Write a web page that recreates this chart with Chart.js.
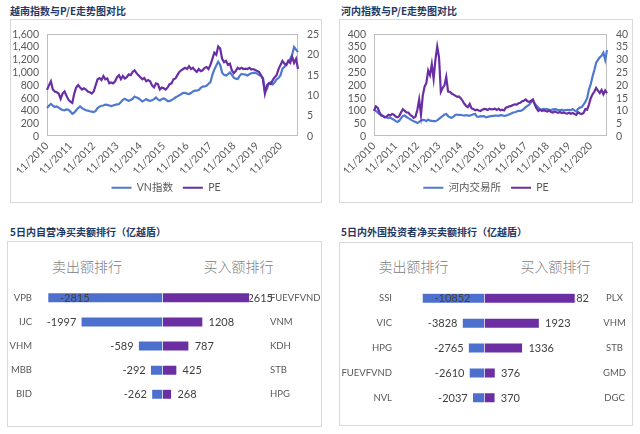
<!DOCTYPE html>
<html><head><meta charset="utf-8">
<script src="https://cdn.jsdelivr.net/npm/chart.js@4.4.0/dist/chart.umd.min.js"></script>
<style>
body{margin:0;width:640px;height:434px;background:#fff;position:relative;overflow:hidden;font-family:Lato,"Noto Sans CJK SC",sans-serif}
.panel{position:absolute;border:1px solid #d9d9d9;box-sizing:border-box}
.title{position:absolute;font-size:10px;font-weight:bold;color:#1f3864;font-family:"Noto Sans CJK SC";white-space:nowrap;line-height:12px}
.hdr{position:absolute;font-size:14px;color:#808080;font-family:"Noto Sans CJK SC";font-weight:300;transform:translateX(-50%);white-space:nowrap;line-height:16px}
canvas{position:absolute}
</style></head>
<body>
<div class="panel" style="left:10px;top:19px;width:312px;height:184px"></div>
<div class="panel" style="left:339px;top:19px;width:294px;height:184px"></div>
<div class="panel" style="left:7px;top:241px;width:315px;height:186px"></div>
<div class="panel" style="left:339px;top:242px;width:294px;height:184px"></div>
<div class="title" style="left:10px;top:4.5px">越南指数与P/E走势图对比</div>
<div class="title" style="left:341px;top:4.5px">河内指数与P/E走势图对比</div>
<div class="title" style="left:10px;top:226px">5日内自营净买卖额排行（亿越盾）</div>
<div class="title" style="left:341px;top:226px">5日内外国投资者净买卖额排行（亿越盾）</div>
<div class="hdr" style="left:87px;top:258px">卖出额排行</div>
<div class="hdr" style="left:238.5px;top:258px">买入额排行</div>
<div class="hdr" style="left:413.5px;top:258px">卖出额排行</div>
<div class="hdr" style="left:555.5px;top:258px">买入额排行</div>
<canvas id="c1" width="312" height="184" style="left:10px;top:19px;width:312px;height:184px"></canvas>
<canvas id="c2" width="294" height="184" style="left:339px;top:19px;width:294px;height:184px"></canvas>
<canvas id="c3" width="315" height="186" style="left:7px;top:241px;width:315px;height:186px"></canvas>
<canvas id="c4" width="294" height="184" style="left:339px;top:242px;width:294px;height:184px"></canvas>
<script>
// ---------- DATA ----------
const yearTicks = ['11/2010','11/2011','11/2012','11/2013','11/2014','11/2015','11/2016','11/2017','11/2018','11/2019','11/2020'];
// monthly categories Nov 2010 .. Aug 2021
const months = [];
for (let y = 2010, m = 11; months.length < 130; ) { months.push(m + '/' + y); m++; if (m > 12) { m = 1; y++; } }

const vnIndex = [
445,480,510,485,462,470,452,430,415,410,
425,420,390,355,375,410,445,470,445,425,
410,405,395,390,382,400,445,468,482,485,
500,495,485,475,485,495,502,508,540,575,
592,570,560,572,590,625,612,598,575,548,
565,585,565,558,566,585,612,580,565,585,
595,580,555,555,570,588,610,628,645,665,
682,682,670,665,680,705,718,718,728,760,
780,784,795,825,850,965,1050,1110,1170,1120,
1000,965,955,975,1005,965,920,905,900,950,
980,975,970,955,975,990,995,1000,985,962,
950,915,700,740,830,850,815,850,895,915,
960,1060,1090,1120,1180,1215,1280,1400,1360,1320];
const vnPE = [
11.4,12.5,13.5,11.5,11,10.8,10.5,9.2,10.5,11,
10,9,8.5,8.2,10.5,12,12.6,12,11.5,11.8,
11.5,11,10.8,10.5,11,12.5,14,14.3,13.8,14.8,
14,14.2,13,13.2,13,13.5,14.5,15,14,14.8,
14.2,14.5,15.2,15,15.8,16.2,15.5,15,14.5,14,
14.3,13.5,13.8,13.5,12.5,12,13,12.8,11.5,12,
11.8,11.5,12,12.8,13,14,14.2,15,15.8,16.2,
16.5,16.8,16.5,17.2,16.5,16.8,16.2,15.8,16.5,16,
16.2,16.8,17,16.5,17.5,19,20.5,20,22,21.5,
19,18.2,18.5,17.5,17.8,16.2,15.5,16,16.8,16.5,
16.8,16.5,16.6,16.5,16.8,16.4,16.5,16.3,16,15.8,
15,14,10.5,12.5,13,12.8,13.8,14.5,15,16.5,
17.5,18.5,17.8,17.5,18.5,18,19.5,18,19,16.5];
const hnxIndex = [
105,100,95,88,85,80,76,75,72,74,
69,66,60,57,62,72,80,82,76,72,
68,63,60,57,53,57,62,65,64,60,
66,62,61,60,60,63,69,75,80,86,
88,80,75,73,78,84,86,84,85,83,
82,84,82,82,84,87,88,78,77,80,
79,80,75,77,79,80,81,82,82,81,
84,83,81,82,84,87,90,94,95,98,
100,100,103,108,115,120,125,135,141,130,
120,113,105,106,108,107,107,104,103,106,
107,106,103,103,105,102,103,104,104,103,
107,102,98,108,113,115,125,135,150,184,
205,235,260,289,300,310,316,328,300,338];
const hnxPE = [
10,11.8,11.3,9.5,8.2,8,7.5,7.8,8.5,8.2,
8.8,8.5,7.8,7.5,8,9.5,10.7,10,9.4,9.4,
8.5,8,7.3,7.8,10.5,14.5,8.5,16,19.5,21,
25.8,24,28.3,22.6,30,35.2,31,17.5,19,20,
23.3,17.6,17.5,16.8,16.4,16,15.5,15.7,15,14,
12.8,12,11.5,12.7,11,10.8,10.3,10.5,10.2,10,
10.5,10.8,10.7,10.4,10.9,10.6,10.7,10.9,10.4,10.8,
10.3,10.5,10.2,11.3,11.5,11.8,12,12.3,12.6,12.5,
13,13.2,13.8,14,14.5,13.8,13.5,14,14.5,12.5,
11,10,10.5,10,10.3,10,9.8,10.2,9.6,9.4,
9.8,9.5,9.3,9.6,9.2,9.4,9.1,9,9.3,8.9,
9.2,8.8,8.5,9.5,9,8.8,9.2,10.7,10.5,12.5,
15,16.5,17.5,19,18,17,18.2,16.5,18,17];

const propSellNames = ['VPB','IJC','VHM','MBB','BID'];
const propSellVals  = [-2815,-1997,-589,-292,-262];
const propBuyNames  = ['FUEVFVND','VNM','KDH','STB','HPG'];
const propBuyVals   = [2615,1208,787,425,268];

const forSellNames = ['SSI','VIC','HPG','FUEVFVND','NVL'];
const forSellVals  = [-10852,-3828,-2765,-2610,-2037];
const forBuyNames  = ['PLX','VHM','STB','GMD','DGC'];
const forBuyVals   = [3182,1923,1336,376,370];

// ---------- STYLE ----------
const BLUE = '#4f78d0', PURPLE = '#6a2ea4';
const SELL = '#4d70cf', BUY = '#6b2fa3';
const FONT = 'Lato,"Noto Sans CJK SC",sans-serif';
Chart.defaults.font.family = FONT;
Chart.defaults.font.size = 10.5;
Chart.defaults.color = '#595959';
Chart.defaults.animation = false;

const frame = {id:'frame', beforeDatasetsDraw(c){
  const a = c.chartArea, x = c.ctx; x.save(); x.strokeStyle = '#bfbfbf'; x.lineWidth = 1;
  x.strokeRect(Math.round(a.left)+0.5, Math.round(a.top)+0.5, Math.round(a.width)-1, Math.round(a.height)-1); x.restore();
}};

function lineChart(id, name1, d1, d2, lMax, lStep, rMax, rStep, g){
  new Chart(document.getElementById(id), {
    type:'line',
    data:{labels: months, datasets:[
      {label:name1, data:d1, yAxisID:'y', borderColor:BLUE, backgroundColor:BLUE, borderWidth:2.2, pointRadius:0, tension:0, order:1},
      {label:'PE', data:d2, yAxisID:'y1', borderColor:PURPLE, backgroundColor:PURPLE, borderWidth:2.2, pointRadius:0, tension:0, order:0}
    ]},
    options:{responsive:false, animation:false,
      layout:{padding:{top:12, left:0, right:0, bottom:0}},
      plugins:{tooltip:{enabled:false},
        legend:{position:'bottom', labels:{usePointStyle:true, pointStyle:'line', pointStyleWidth:20, padding:10, color:'#595959', font:{size:10.5}, sort:(a,b)=>a.datasetIndex-b.datasetIndex}}},
      scales:{
        x:{type:'category', grid:{display:false, drawTicks:false}, border:{display:false},
           ticks:{autoSkip:false, minRotation:45, maxRotation:45, padding:3, color:'#595959',
             callback:(v,i)=> yearTicks.includes(months[i]) ? months[i] : ''},
           afterFit(s){ s.height = g.xH; }},
        y:{position:'left', min:0, max:lMax, grid:{display:false, drawTicks:false}, border:{display:false},
           ticks:{stepSize:lStep, autoSkip:false, padding:g.lPad, color:'#595959'}, afterFit(s){ s.width = g.lW; }},
        y1:{position:'right', min:0, max:rMax, grid:{display:false, drawTicks:false}, border:{display:false},
           ticks:{stepSize:rStep, autoSkip:false, padding:g.rPad, color:'#595959'}, afterFit(s){ s.width = g.rW; }}
      }},
    plugins:[frame]
  });
}

lineChart('c1', 'VN指数', vnIndex, vnPE, 1600, 200, 25, 5, {xH:36, lW:37, rW:24, lPad:8, rPad:9});
lineChart('c2', '河内交易所', hnxIndex, hnxPE, 400, 50, 40, 5, {xH:36, lW:35, rW:26, lPad:8, rPad:9});

function placeLabels(c){
  const ctx = c.ctx, a = c.chartArea, clamp = c.options.plugins.valLabels.clamp, out = [];
  ctx.font = '11px ' + FONT;
  c.data.datasets.forEach((ds, di) => {
    c.getDatasetMeta(di).data.forEach((bar, i) => {
      const v = ds.data[i], t = String(v), w = ctx.measureText(t).width;
      let x, inside = false;
      if (v < 0) { x = bar.x - 5 - w; if (x < a.left - 10) { x = bar.x + 12; inside = true; } }
      else { x = Math.min(bar.x + 6, a.right + clamp - w); }
      out.push({t, x, y: bar.y + 0.5, inside});
    });
  });
  return out;
}
function drawLabels(c, inside){
  const ctx = c.ctx; ctx.save();
  const items = placeLabels(c);
  ctx.font = '11px ' + FONT; ctx.fillStyle = '#404040'; ctx.textBaseline = 'middle'; ctx.textAlign = 'left';
  items.filter(o => o.inside === inside).forEach(o => ctx.fillText(o.t, o.x, o.y));
  ctx.restore();
}
const valLabels = {id:'valLabels',
  beforeDatasetsDraw(c){ drawLabels(c, false); },
  afterDatasetsDraw(c){ drawLabels(c, true); }
};

function barChart(id, sN, sV, bN, bV, g){
  new Chart(document.getElementById(id), {
    type:'bar',
    data:{labels:sN, datasets:[
      {data:sV, xAxisID:'xs', yAxisID:'y', backgroundColor:SELL, grouped:false, barThickness:9.5, borderColor:'#ffffff', borderWidth:0.6, borderSkipped:false},
      {data:bV, xAxisID:'xb', yAxisID:'y', backgroundColor:BUY, grouped:false, barThickness:9.5, borderColor:'#ffffff', borderWidth:0.6, borderSkipped:false}
    ]},
    options:{indexAxis:'y', responsive:false, animation:false,
      layout:{padding:{top:g.top, bottom:g.bottom, left:0, right:0}},
      plugins:{legend:{display:false}, tooltip:{enabled:false}, valLabels:{clamp:g.clamp}},
      scales:{
        xs:{type:'linear', position:'bottom', min:g.sMin, max:g.sMax, display:false},
        xb:{type:'linear', position:'top', min:g.bMin, max:g.bMax, display:false},
        y:{type:'category', position:'left', offset:true, grid:{display:false, drawTicks:false}, border:{display:false},
           ticks:{padding:g.lPad, color:'#595959', font:{size:9.5}}, afterFit(s){ s.width = g.lW; }},
        y2:{type:'category', labels:bN, position:'right', offset:true, grid:{display:false, drawTicks:false}, border:{display:false},
           ticks:{padding:g.rPad, crossAlign:g.rAlign, color:'#595959', font:{size:9.5}}, afterFit(s){ s.width = g.rW; }}
      }},
    plugins:[valLabels]
  });
}

barChart('c3', propSellNames, propSellVals, propBuyNames, propBuyVals,
  {top:44.8, bottom:16.7, lW:40, rW:57, lPad:15, rPad:5, rAlign:'near', clamp:8, sMin:-2840, sMax:2518, bMin:-3479, bMax:3087});
barChart('c4', forSellNames, forSellVals, forBuyNames, forBuyVals,
  {top:43.8, bottom:15.2, lW:58, rW:40, lPad:5, rPad:10, rAlign:'center', clamp:-4, sMin:-15316, sMax:19070, bMin:-3063, bMax:3814});
</script>
</body></html>
